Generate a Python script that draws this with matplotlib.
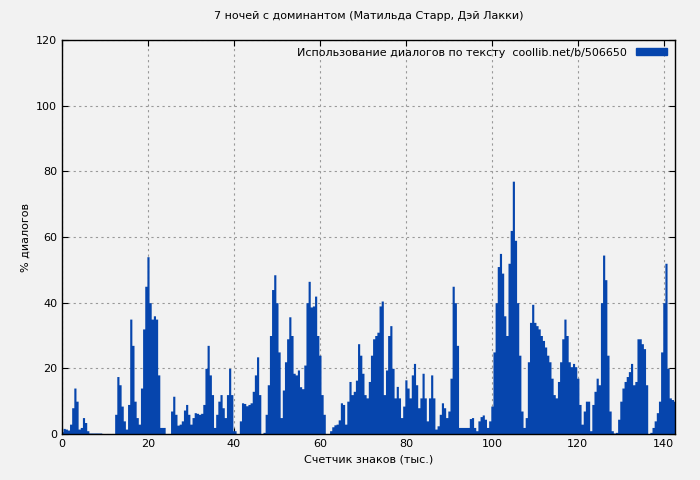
import numpy as np
import matplotlib
matplotlib.use("Agg")
import matplotlib.pyplot as plt
from matplotlib.patches import Patch

# --- данные: (начало отрезка, тыс. знаков; значения с шагом 0.5) ---
STEP = 0.5
segments = [
    (0.0, [0.7, 1.7, 1.5, 1.2, 3, 8, 14, 10, 1.5, 2, 5, 3.5, 1, 0.3]),
    (12.0, [0, 6, 17.5, 15, 8.5, 4, 1.5, 9, 35, 27, 10, 5, 3, 14, 32, 45, 54, 40,
            35, 36, 35, 18, 2]),
    (25.0, [0, 7, 11.5, 6, 2.7, 3, 4, 7.3, 9, 6, 3, 5, 6.5, 6.3, 6, 6.3, 9, 20, 27,
            18, 12, 2, 6, 10, 12, 8, 5, 12, 20, 12, 1]),
    (41.0, [0, 4, 9.5, 9.3, 8.6, 9, 9.5, 13, 18, 23.5, 12, 0, 0.5, 6, 15, 30, 44,
            48.5, 40, 25, 5, 13.4, 22, 29, 35.7, 30, 18.5, 18, 19.5, 14.4, 13.8, 21,
            40, 46.5, 38.7, 39, 42, 30, 24, 12, 6, 0]),
    (62.0, [0, 1, 2.2, 2.8, 3, 4.3, 9.5, 9, 3, 10, 16, 12, 13, 16.4, 27.5, 24, 18.5,
            12, 11, 16, 24, 29, 30, 31]),
    (74.0, [39, 40.5, 12, 19.5, 30, 33, 20, 11, 14.5, 11, 5, 8.5, 16.5, 14, 11, 18,
            21.5, 15, 8, 11, 18.5, 11, 4, 11, 18, 11, 1.5, 2.5, 6, 9.5, 8, 5, 7, 17,
            45, 40, 27, 2]),
    (94.5, [2, 4.7, 5, 2, 1, 4, 5.3, 5.8, 4.5, 2, 4, 8.5, 25, 40, 51, 55, 49, 36,
            30, 52, 62, 77, 59, 40, 24, 7, 2, 5, 22, 34, 39.5, 34, 33, 32, 30, 28.5,
            26.5, 24, 22, 17, 12, 11, 16, 22, 29, 35, 30, 22, 20.5, 21.5, 20.5, 17,
            9, 3, 7, 10, 10, 1, 9, 13, 17, 15, 40, 54.5, 47, 24, 7, 1, 0.3, 0.5, 4.5,
            10, 14, 16, 17.5, 19, 21.5, 15, 16, 29, 29, 27.5, 26, 15, 0, 0.5, 2, 4,
            6.5, 10, 25, 40, 52, 20, 11, 10.5, 10]),
]

xs, ys = [], []
for start, vals in segments:
    xs.extend(start + STEP * i for i in range(len(vals)))
    ys.extend(vals)
xs = np.array(xs)
ys = np.array(ys)

BLUE = "#0645ad"

fig = plt.figure(figsize=(7, 4.8), dpi=100)
fig.patch.set_facecolor("#f2f2f2")
ax = fig.add_axes([62 / 700, 1 - 434 / 480, 613 / 700, 394 / 480])
ax.set_facecolor("#f2f2f2")

ax.fill_between(xs, ys, step="mid", color=BLUE, linewidth=0)

ax.set_xlim(0, 142.6)
ax.set_ylim(0, 120)
ax.set_xticks(range(0, 141, 20))
ax.set_yticks(range(0, 121, 20))
ax.grid(True, color="#999999", linestyle=(0, (2, 3)), linewidth=0.8)
ax.set_axisbelow(True)
ax.tick_params(direction="in", labelsize=8, top=True, right=True, length=4)
for s in ax.spines.values():
    s.set_linewidth(1)

ax.set_xlabel("Счетчик знаков (тыс.)", fontsize=8)
ax.set_ylabel("% диалогов", fontsize=8)
ax.set_title("7 ночей с доминантом (Матильда Старр, Дэй Лакки)", fontsize=8, pad=15)

ax.legend(handles=[Patch(color=BLUE)],
          labels=["Использование диалогов по тексту  coollib.net/b/506650"],
          loc="upper right", frameon=False, fontsize=8, markerfirst=False,
          handlelength=2.8, handleheight=0.6, borderaxespad=0.3)

fig.savefig("out.png", dpi=100, facecolor=fig.get_facecolor())
